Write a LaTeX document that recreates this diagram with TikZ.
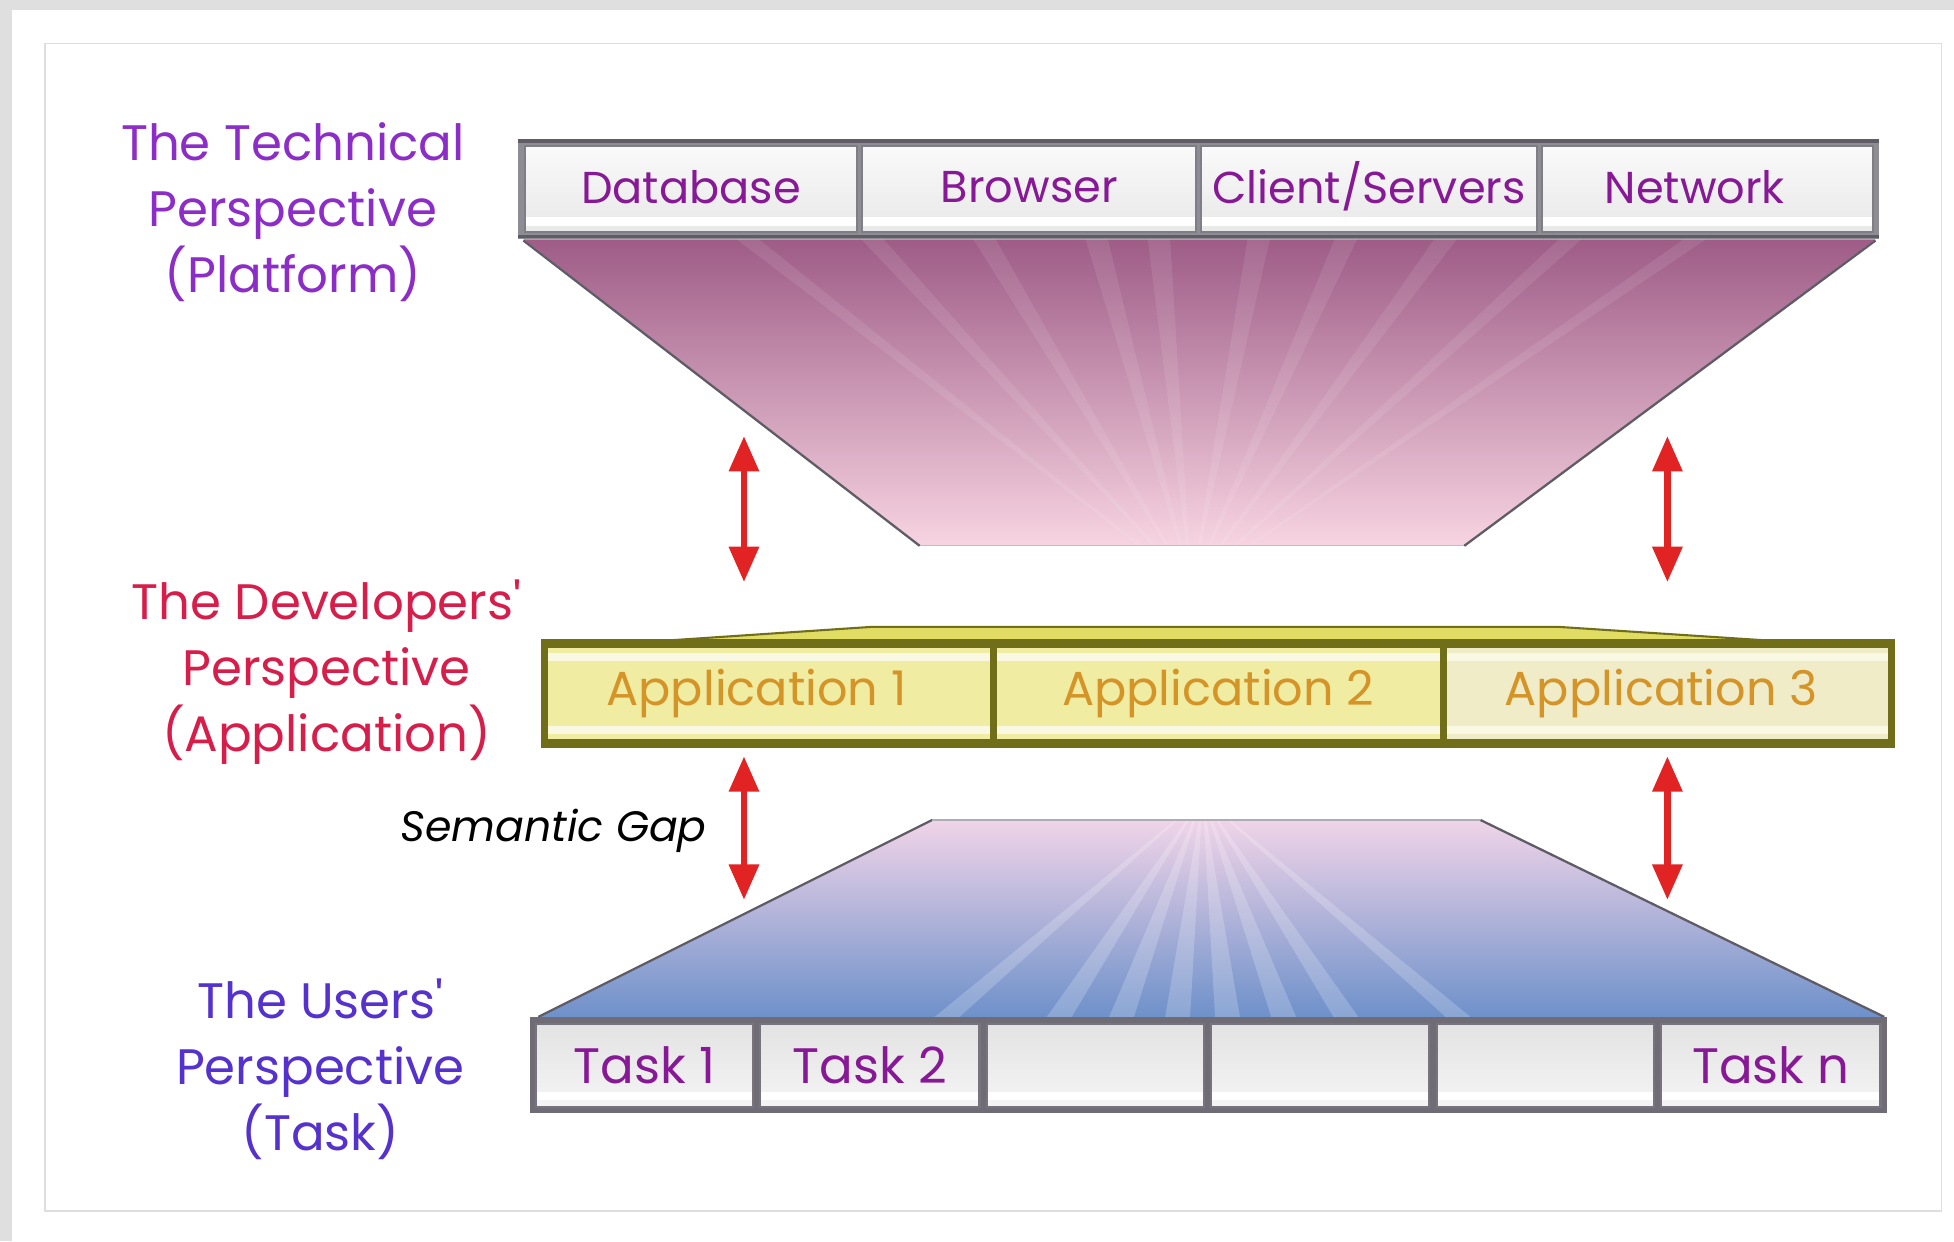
\documentclass[tikz,border=0pt]{standalone}
\usepackage{fontspec}
\setmainfont{Poppins}
\usetikzlibrary{arrows.meta,fit,calc}

\definecolor{techpurple}{RGB}{140,45,200}
\definecolor{devred}{RGB}{215,30,75}
\definecolor{userblue}{RGB}{85,50,205}
\definecolor{cellpurple}{RGB}{135,25,150}
\definecolor{appgold}{RGB}{212,148,40}
\definecolor{arrowred}{RGB}{225,35,35}
\definecolor{slabdark}{RGB}{95,92,102}
\definecolor{olive}{RGB}{112,110,25}
\definecolor{appfill}{RGB}{240,236,162}
\definecolor{appfillpale}{RGB}{240,236,200}
\definecolor{applight}{RGB}{249,248,226}
\definecolor{applid}{RGB}{225,220,100}
\definecolor{mauvetop}{RGB}{158,92,135}
\definecolor{mauvemid}{RGB}{212,150,186}
\definecolor{pinkbot}{RGB}{247,212,225}
\definecolor{lilactop}{RGB}{240,212,232}
\definecolor{lilacmid}{RGB}{190,180,222}
\definecolor{bluebot}{RGB}{110,145,202}
\definecolor{framegray}{RGB}{222,222,222}

\begin{document}
\begin{tikzpicture}[x=0.6pt,y=-0.6pt,
  lbl/.style={align=center,font=\fontsize{24}{31.8}\selectfont},
  cellbase/.style={inner sep=0pt,line width=1pt},
  strip/.style={path picture={\fill[#1]
      ([yshift=3pt]path picture bounding box.south west) rectangle
      ([yshift=7pt]path picture bounding box.south east);}},
  techcell/.style={cellbase,draw=slabdark!80,top color=white!96!gray,
    bottom color=gray!18,strip=white},
  techtext/.style={text=cellpurple,font=\fontsize{21.5}{26}\selectfont},
  appcell/.style={cellbase,draw=olive,fill=appfill,
    path picture={\fill[applight]
      ([yshift=-3pt]path picture bounding box.north west) rectangle
      ([yshift=-7pt]path picture bounding box.north east);
      \fill[applight]
      ([yshift=3pt]path picture bounding box.south west) rectangle
      ([yshift=7pt]path picture bounding box.south east);}},
  apptext/.style={text=appgold,font=\fontsize{23}{28}\selectfont},
  taskcell/.style={cellbase,draw=slabdark!85,top color=gray!22,
    bottom color=gray!8,strip=white},
  tasktext/.style={text=cellpurple,font=\fontsize{24}{28}\selectfont},
  gap/.style={arrowred,line width=3pt,
    {Triangle[length=17pt,width=14pt]}-{Triangle[length=17pt,width=14pt]}},
  edge/.style={draw=slabdark,line width=1.1pt}]

\useasboundingbox (0,0) rectangle (1568,996);
\fill[white] (0,0) rectangle (1568,996);
% page margins and frame
\fill[gray!25] (0,0) rectangle (10,996);
\fill[gray!25] (0,0) rectangle (1568,8);
\draw[framegray,line width=0.8pt] (36,35) rectangle (1558,972);

% ---- upper funnel (platform -> application)
\shade[top color=mauvetop,middle color=mauvemid,bottom color=pinkbot]
  (420,192) -- (1505,192) -- (1175,438) -- (738,438) -- cycle;
\begin{scope}
  \clip (420,192) -- (1505,192) -- (1175,438) -- (738,438) -- cycle;
  \foreach \x in {600,700,790,880,930,1010,1080,1160,1260,1360}
    \fill[white,opacity=0.09] (956,470) -- (\x-9,192) -- (\x+9,192) -- cycle;
\end{scope}
\draw[edge] (420,193) -- (738,438);
\draw[edge] (1505,193) -- (1175,438);
\draw[slabdark!40,line width=0.6pt] (738,438) -- (1175,438);

% ---- lower funnel (application -> task)
\shade[top color=lilactop,middle color=lilacmid,bottom color=bluebot]
  (748,658) -- (1188,658) -- (1512,816) -- (432,816) -- cycle;
\begin{scope}
  \clip (748,658) -- (1188,658) -- (1512,816) -- (432,816) -- cycle;
  \foreach \x in {760,850,900,945,985,1030,1080,1170}
    \fill[white,opacity=0.2] (965,640) -- (\x-10,816) -- (\x+10,816) -- cycle;
\end{scope}
\draw[edge] (748,658) -- (432,816);
\draw[edge] (1188,658) -- (1512,816);
\draw[slabdark!50,line width=0.8pt] (748,658) -- (1188,658);

% ---- technical slab
\fill[slabdark!70] (416,112) rectangle (1508,192);
\draw[slabdark,line width=2pt] (416,113) -- (1508,113);
\node[techcell,fit={(421,117) (688,186)},
  label={[techtext,name=dbt,yshift=1pt]center:Database}] (db) {};
\node[techcell,fit={(692,117) (960,186)},
  label={[techtext,name=brt,yshift=1pt]center:Browser}] (br) {};
\node[techcell,fit={(964,117) (1233,186)},
  label={[techtext,name=cst,yshift=1pt]center:Client/Servers}] (cs) {};
\node[techcell,fit={(1237,117) (1503,186)},
  label={[techtext,name=nwt,yshift=1pt,xshift=-6pt]center:Network}] (nw) {};
\draw[slabdark,line width=1.6pt] (416,190) -- (1508,190);

% ---- application slab
\filldraw[fill=applid,draw=olive,line width=1pt]
  (505,516) -- (700,503) -- (1250,503) -- (1450,516) -- cycle;
\fill[olive] (434,513) rectangle (1521,600);
\node[appcell,fit={(439,519) (795,594)},
  label={[apptext,name=a1t,xshift=-6pt]center:Application 1}] (a1) {};
\node[appcell,fit={(799,519) (1156,594)},
  label={[apptext,name=a2t]center:Application 2}] (a2) {};
\node[appcell,fit={(1160,519) (1516,594)},fill=appfillpale,
  label={[apptext,name=a3t,xshift=-3pt]center:Application 3}] (a3) {};

% ---- task slab
\fill[slabdark!90] (425,816) rectangle (1514,893);
\node[taskcell,fit={(430,822) (604,888)},
  label={[tasktext,name=t1t]center:Task 1}] (t1) {};
\node[taskcell,fit={(610,822) (786,888)},
  label={[tasktext,name=t2t]center:Task 2}] (t2) {};
\node[taskcell,fit={(792,822) (966,888)}] (t3) {};
\node[taskcell,fit={(972,822) (1147,888)}] (t4) {};
\node[taskcell,fit={(1153,822) (1327,888)}] (t5) {};
\node[taskcell,fit={(1333,822) (1509,888)},
  label={[tasktext,name=tnt]center:Task n}] (tn) {};

% ---- perspective labels
\node[lbl,text=techpurple] (tech) at (235,170)
  {The Technical\\Perspective\\(Platform)};
\node[lbl,text=devred] (dev) at (262,539)
  {The Developers\textquotesingle\\Perspective\\(Application)};
\node[lbl,text=userblue] (user) at (257,858)
  {The Users\textquotesingle\\Perspective\\(Task)};
\node[font=\fontsize{20.5}{24}\selectfont\itshape,anchor=east] (gaplbl)
  at (573,667) {Semantic Gap};

% ---- gap arrows
\coordinate (uL1) at (597,350);
\coordinate (uL2) at (597,467);
\coordinate (uR1) at (1338,350);
\coordinate (uR2) at (1338,467);
\coordinate (lL1) at (597,607);
\coordinate (lL2) at (597,722);
\coordinate (lR1) at (1338,607);
\coordinate (lR2) at (1338,722);
\draw[gap] (uL1) -- (uL2);
\draw[gap] (uR1) -- (uR2);
\draw[gap] (lL1) -- (lL2);
\draw[gap] (lR1) -- (lR2);
\end{tikzpicture}
\end{document}
